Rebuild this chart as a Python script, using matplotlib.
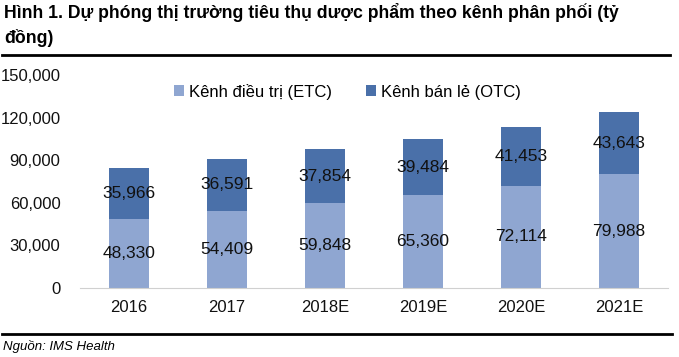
import matplotlib
matplotlib.use("Agg")
import matplotlib.pyplot as plt
import numpy as np
from matplotlib.lines import Line2D

years = ["2016", "2017", "2018E", "2019E", "2020E", "2021E"]
etc = [48330, 54409, 59848, 65360, 72114, 79988]
otc = [35966, 36591, 37854, 39484, 41453, 43643]
yticks = [0, 30000, 60000, 90000, 120000, 150000]

C_ETC = "#8FA6D1"
C_OTC = "#4A70A9"
FONT = ["Liberation Sans", "DejaVu Sans"]
plt.rcParams["font.family"] = FONT

fig = plt.figure(figsize=(6.79, 3.57), dpi=100)
ax = fig.add_axes([80 / 679, 1 - 288 / 357, 588 / 679, 213 / 357])

x = np.arange(len(years))
ax.bar(x, etc, width=0.4, color=C_ETC, label="Kênh điều trị (ETC)")
ax.bar(x, otc, width=0.4, bottom=etc, color=C_OTC, label="Kênh bán lẻ (OTC)")
for i in range(len(years)):
    ax.text(x[i], etc[i] / 2, f"{etc[i]:,}", ha="center", va="center", fontsize=12.5, color="#111111")
    ax.text(x[i], etc[i] + otc[i] / 2, f"{otc[i]:,}", ha="center", va="center", fontsize=12.5, color="#111111")

ax.set_xlim(-0.5, 5.5)
ax.set_ylim(0, 150000)
ax.set_yticks(yticks)
ax.set_yticklabels([f"{v:,}" for v in yticks])
ax.set_xticks(x)
ax.set_xticklabels(years)
ax.tick_params(length=0, labelsize=12, colors="#111111")
ax.tick_params(axis="y", pad=14)
ax.tick_params(axis="x", pad=9)
for s in ["top", "right", "left"]:
    ax.spines[s].set_visible(False)
ax.spines["bottom"].set_color("#d0d0d0")

ax.legend(loc="upper center", bbox_to_anchor=(0.455, 1.03), ncol=2, frameon=False,
          fontsize=12, handlelength=0.6, handleheight=0.6, handletextpad=0.3, columnspacing=2.0)

fig.text(4 / 679, 1 - 18 / 357, "Hình 1. Dự phóng thị trường tiêu thụ dược phẩm theo kênh phân phối (tỷ",
         fontsize=12.7, fontweight="bold", va="baseline")
fig.text(4 / 679, 1 - 43 / 357, "đồng)",
         fontsize=12.7, fontweight="bold", va="baseline")
fig.add_artist(Line2D([2 / 679, 670 / 679], [1 - 55 / 357] * 2, color="black", lw=2, transform=fig.transFigure))
fig.add_artist(Line2D([2 / 679, 672 / 679], [1 - 334 / 357] * 2, color="black", lw=2, transform=fig.transFigure))
fig.text(3 / 679, 1 - 350 / 357, "Nguồn: IMS Health", fontsize=9.5, style="italic", va="baseline")

fig.savefig("out.png", dpi=100)
